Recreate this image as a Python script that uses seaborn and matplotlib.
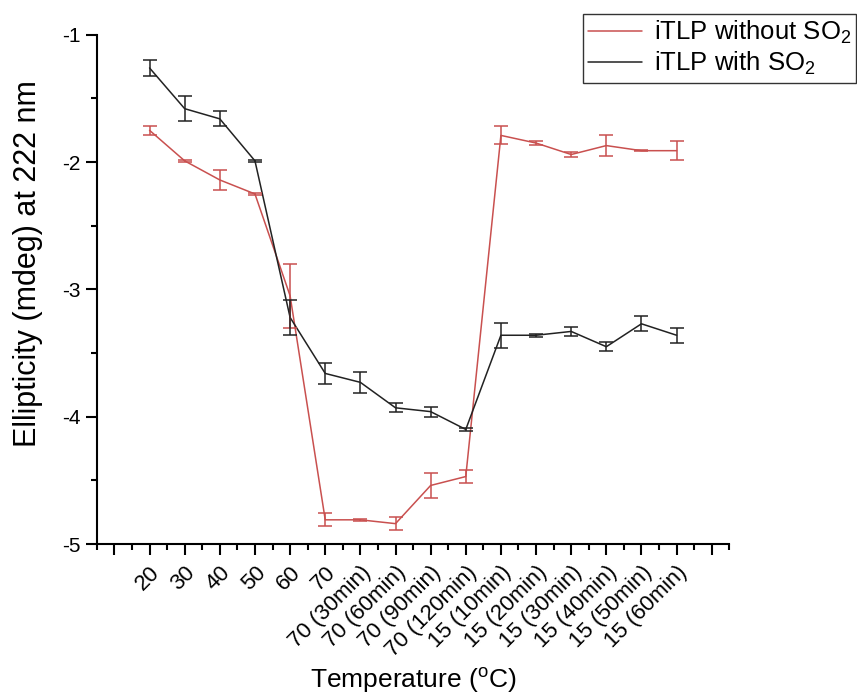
import numpy as np
import pandas as pd
import matplotlib
matplotlib.use("Agg")
import matplotlib.pyplot as plt
import matplotlib.transforms as mtransforms
import seaborn as sns
from matplotlib.ticker import MultipleLocator

# Data
temps = ["20", "30", "40", "50", "60", "70",
         "70 (30min)", "70 (60min)", "70 (90min)", "70 (120min)",
         "15 (10min)", "15 (20min)", "15 (30min)", "15 (40min)", "15 (50min)", "15 (60min)"]
without_so2 = [-1.75, -1.99, -2.14, -2.25, -3.05, -4.81, -4.81, -4.84, -4.54, -4.47,
               -1.79, -1.85, -1.94, -1.87, -1.91, -1.91]
without_err = [0.035, 0.01, 0.075, 0.01, 0.25, 0.05, 0.01, 0.05, 0.1, 0.05,
               0.07, 0.015, 0.02, 0.085, 0.005, 0.075]
with_so2 = [-1.26, -1.58, -1.66, -1.99, -3.22, -3.66, -3.73, -3.93, -3.96, -4.10,
            -3.36, -3.36, -3.33, -3.45, -3.27, -3.36]
with_err = [0.06, 0.10, 0.06, 0.01, 0.14, 0.08, 0.08, 0.035, 0.04, 0.01,
            0.1, 0.01, 0.035, 0.035, 0.06, 0.06]

red = "#c9504f"
black = "#222222"

sns.set_style("ticks")
plt.rcParams["font.family"] = ["Liberation Sans", "DejaVu Sans"]
plt.rcParams["mathtext.default"] = "regular"
plt.rcParams["text.color"] = "black"
plt.rcParams["axes.labelcolor"] = "black"
plt.rcParams["xtick.color"] = "black"
plt.rcParams["ytick.color"] = "black"

idx = np.arange(len(temps))
lab_wo = "iTLP without SO$_2$"
lab_w = "iTLP with SO$_2$"
df = pd.DataFrame({
    "pos": np.concatenate([idx, idx]),
    "val": without_so2 + with_so2,
    "series": [lab_wo] * len(temps) + [lab_w] * len(temps),
})

fig = plt.figure(figsize=(8.57, 6.97), dpi=100)
ax = fig.add_axes([0.113, 0.2195, 0.738, 0.7305])

sns.lineplot(data=df, x="pos", y="val", hue="series",
             palette={lab_wo: red, lab_w: black},
             linewidth=1.1, ax=ax, legend=True)
ax.errorbar(idx, without_so2, yerr=without_err, fmt="none", ecolor=red,
            elinewidth=1.1, capsize=5, capthick=1.1)
ax.errorbar(idx, with_so2, yerr=with_err, fmt="none", ecolor=black,
            elinewidth=1.1, capsize=5, capthick=1.1)

ax.set_xlim(-1.5, 16.5)
ax.set_ylim(-5, -1)
ax.xaxis.set_minor_locator(MultipleLocator(0.5))
ax.yaxis.set_minor_locator(MultipleLocator(0.5))
ax.set_xticks(np.arange(-1, 17))
ax.set_xticklabels([""] + temps + [""], rotation=45, ha="right",
                   rotation_mode="anchor", fontsize=16)
shift = mtransforms.ScaledTranslation(0.13, 0, fig.dpi_scale_trans)
for t in ax.get_xticklabels():
    t.set_transform(t.get_transform() + shift)
ax.set_yticks([-5, -4, -3, -2, -1])
ax.set_yticklabels(["-5", "-4", "-3", "-2", "-1"], fontsize=15)
ax.tick_params(axis="both", which="major", length=8, width=1.5, direction="out")
ax.tick_params(axis="both", which="minor", length=4, width=1.5, direction="out")
ax.tick_params(axis="x", which="major", pad=5)
for s in ["left", "bottom"]:
    ax.spines[s].set_linewidth(1.5)
    ax.spines[s].set_color("black")
sns.despine(ax=ax)

ax.set_xlabel("Temperature ($^o$C)", fontsize=19)
ax.set_ylabel("Ellipticity (mdeg) at 222 nm", fontsize=22)
ax.xaxis.set_label_coords(0.5, -0.24)
ax.yaxis.set_label_coords(-0.085, 0.55)

handles, lbls = ax.get_legend_handles_labels()
leg = ax.legend(handles, lbls, loc="upper left", bbox_to_anchor=(583 / 857, 1 - 14 / 697),
                bbox_transform=fig.transFigure, fontsize=18.5, frameon=True, fancybox=False,
                handlelength=2.1, handletextpad=0.45, borderaxespad=0, borderpad=0.2,
                labelspacing=0.15)
leg.get_frame().set_edgecolor("black")
leg.get_frame().set_linewidth(1.0)

fig.savefig("out.png", dpi=100)
